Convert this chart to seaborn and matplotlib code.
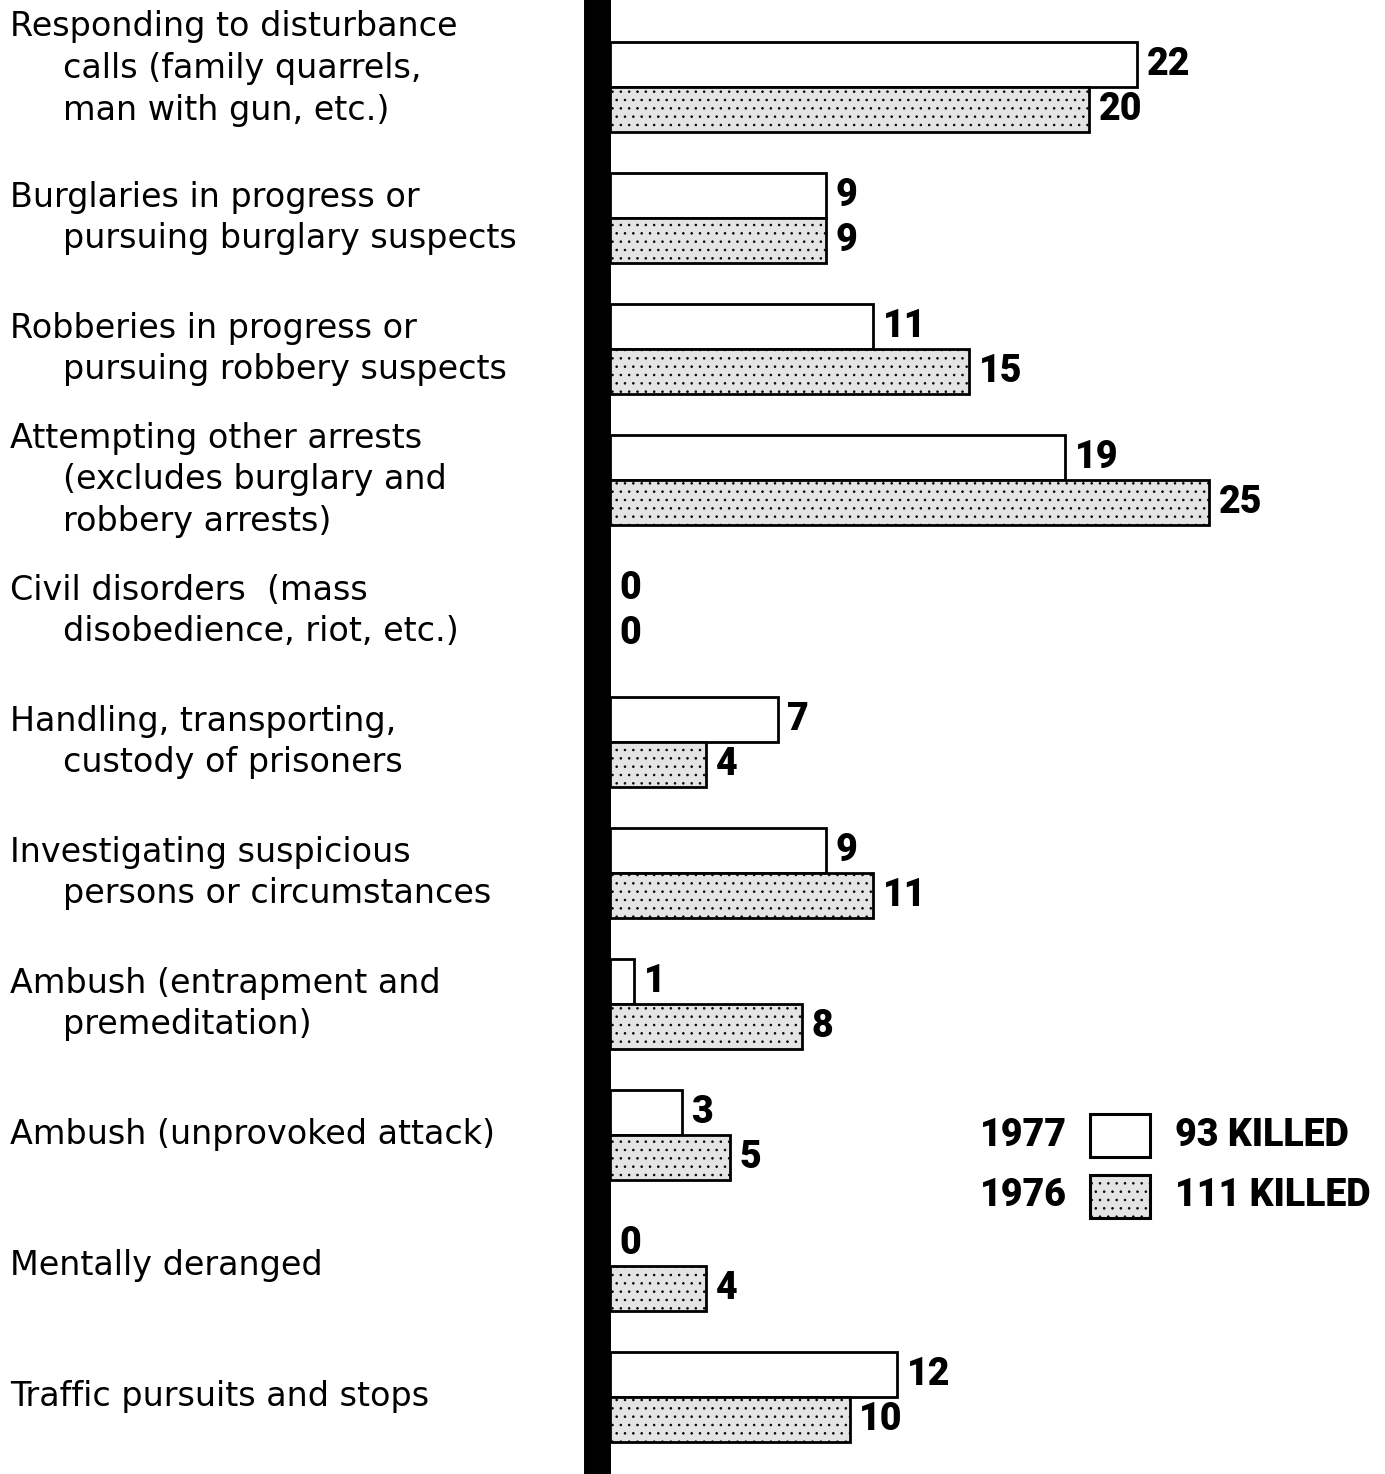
import matplotlib
matplotlib.use("Agg")
import matplotlib.pyplot as plt
from matplotlib.patches import Rectangle
import seaborn as sns
import pandas as pd

# ---------------- data ----------------
categories = [
    "Responding to disturbance\ncalls (family quarrels,\nman with gun, etc.)",
    "Burglaries in progress or\npursuing burglary suspects",
    "Robberies in progress or\npursuing robbery suspects",
    "Attempting other arrests\n(excludes burglary and\nrobbery arrests)",
    "Civil disorders  (mass\ndisobedience, riot, etc.)",
    "Handling, transporting,\ncustody of prisoners",
    "Investigating suspicious\npersons or circumstances",
    "Ambush (entrapment and\npremeditation)",
    "Ambush (unprovoked attack)",
    "Mentally deranged",
    "Traffic pursuits and stops",
]
killed_1977 = [22, 9, 11, 19, 0, 7, 9, 1, 3, 0, 12]
killed_1976 = [20, 9, 15, 25, 0, 4, 11, 8, 5, 4, 10]
years = ["1977", "1976"]

df = pd.DataFrame({
    "category": categories * 2,
    "killed": killed_1977 + killed_1976,
    "year": ["1977"] * len(categories) + ["1976"] * len(categories),
})
totals = {"1977": sum(killed_1977), "1976": sum(killed_1976)}

# ---------------- style ----------------
sns.set_theme(style="white")
plt.rcParams["font.family"] = ["DejaVu Sans"]
plt.rcParams["hatch.linewidth"] = 0.6

W, H = 1385, 1474
fig = plt.figure(figsize=(W / 100, H / 100), dpi=100)
fig.patch.set_facecolor("white")
ax = fig.add_axes([610 / W, 0, (W - 610) / W, 1])

fill = {"1977": "white", "1976": "#e4e4e4"}
sns.barplot(data=df, y="category", x="killed", hue="year", hue_order=years,
            orient="h", width=0.69, palette=fill, edgecolor="black",
            linewidth=2.0, legend=False, ax=ax, errorbar=None)

for p in ax.containers[1]:
    p.set_hatch("..")
for cont in ax.containers:
    for p in cont:
        if p.get_width() == 0:
            p.set_linewidth(0)

num_font = dict(family=["Roboto", "DejaVu Sans"], fontweight="heavy",
                fontsize=27, color="black")
for cont in ax.containers:
    ax.bar_label(cont, padding=7, **num_font)

ax.set_xlim(0, (W - 610) / 23.95)
ax.set_ylim(10.588, -0.664)
ax.set_xlabel("")
ax.set_ylabel("")
ax.set_xticks([])
ax.set_yticks([])
for s in ["top", "right", "bottom"]:
    ax.spines[s].set_visible(False)
ax.spines["left"].set_linewidth(19.4)
ax.spines["left"].set_color("black")
ax.spines["left"].set_position(("outward", 9.7))

# ---------------- category labels ----------------
line_pt = 30.2
shift_pt = {0: 13}
for i, cat in enumerate(categories):
    lines = cat.split("\n")
    n = len(lines)
    for j, ln in enumerate(lines):
        x_px = 10 if j == 0 else 63
        off = -(j - (n - 1) / 2) * line_pt + shift_pt.get(i, 0)
        ax.annotate(ln, xy=(x_px / W, i), xycoords=("figure fraction", "data"),
                    xytext=(0, off), textcoords="offset points",
                    ha="left", va="center", fontsize=24, color="black",
                    annotation_clip=False)

# ---------------- legend ----------------
leg_rows = [1135, 1196]
for yr, yc in zip(years, leg_rows):
    fig.text(980 / W, 1 - yc / H, yr, ha="left", va="center", **num_font)
    rect = Rectangle((1090 / W, 1 - (yc + 22) / H), 60 / W, 43 / H,
                     transform=fig.transFigure, facecolor=fill[yr],
                     edgecolor="black", linewidth=2.2,
                     hatch=".." if yr == "1976" else None)
    fig.add_artist(rect)
    fig.text(1175 / W, 1 - yc / H, f"{totals[yr]} KILLED", ha="left",
             va="center", **num_font)

fig.savefig("out.png", dpi=100, facecolor="white")
